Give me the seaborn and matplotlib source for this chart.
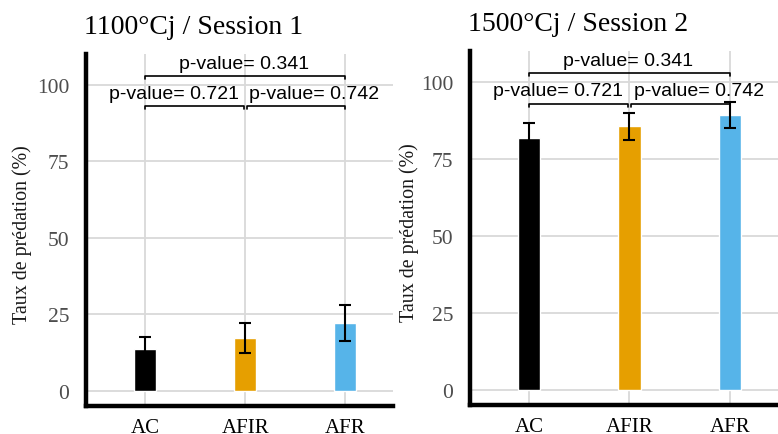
import matplotlib
matplotlib.use("Agg")
import matplotlib.pyplot as plt
import seaborn as sns
import pandas as pd

categories = ["AC", "AFIR", "AFR"]
colors = ["#000000", "#E69F00", "#56B4E9"]

titles = ["1100°Cj / Session 1", "1500°Cj / Session 2"]
means_s1 = [13.5, 17.3, 22.1]
err_s1 = [4.0, 4.9, 5.9]
means_s2 = [81.9, 85.6, 89.3]
err_s2 = [4.9, 4.4, 4.2]

# comparisons: (i, j, label)
comparisons = [(0, 2, "p-value= 0.341"), (0, 1, "p-value= 0.721"), (1, 2, "p-value= 0.742")]
yticks = [0, 25, 50, 75, 100]

sns.set_theme(style="white")
plt.rcParams["font.family"] = ["Liberation Serif", "DejaVu Serif"]

fig = plt.figure(figsize=(7.78, 4.35), dpi=100)
ax_pos = [[0.1105, 0.0644, 0.395, 0.809], [0.604, 0.0667, 0.396, 0.8135]]
ylabel_x = [-0.176, -0.166]

datasets = [(means_s1, err_s1), (means_s2, err_s2)]

for k, (means, errs) in enumerate(datasets):
    ax = fig.add_axes(ax_pos[k])
    df = pd.DataFrame({"cat": categories, "val": means})
    sns.barplot(data=df, x="cat", y="val", hue="cat", palette=colors,
                width=0.22, legend=False, ax=ax, zorder=2, saturation=1)
    ax.errorbar(range(len(categories)), means, yerr=errs, fmt="none",
                ecolor="black", elinewidth=1.5, capsize=4.5, capthick=1.5, zorder=3)
    ax.set_ylim(-5, 110)
    ax.set_xlim(-0.59, 2.48)
    ax.set_yticks(yticks)
    ax.set_yticklabels([str(t) for t in yticks], color="#4d4d4d", fontsize=15.5)
    ax.set_xticks(range(len(categories)))
    ax.set_xticklabels(categories, color="black", fontsize=15)
    ax.tick_params(axis="both", length=0)
    ax.tick_params(axis="y", pad=12)
    ax.tick_params(axis="x", pad=9)
    ax.grid(True, color="#d9d9d9", linewidth=1.3, zorder=0)
    ax.set_axisbelow(True)
    for s in ["top", "right"]:
        ax.spines[s].set_visible(False)
    for s in ["left", "bottom"]:
        ax.spines[s].set_visible(True)
        ax.spines[s].set_color("black")
        ax.spines[s].set_linewidth(3.2)
    ax.set_xlabel("")
    ax.set_ylabel("Taux de prédation (%)", fontsize=14.4, color="#1a1a1a")
    ax.yaxis.set_label_coords(ylabel_x[k], 0.49)
    ax.set_title(titles[k], loc="left", fontsize=20, color="black", pad=15, x=-0.005)

    # significance brackets
    levels = {(0, 2): 102.8, (0, 1): 92.9, (1, 2): 92.9}
    text_x = {(0, 2): 0.99, (0, 1): 0.29, (1, 2): 1.69}
    text_y = {(0, 2): 107.0, (0, 1): 97.2, (1, 2): 97.2}
    for i, j, lab in comparisons:
        y = levels[(i, j)]
        x0 = i + (0.015 if i == 1 else 0)
        x1 = j - (0.015 if j == 1 else 0)
        ax.plot([x0, x0, x1, x1], [y - 1.0, y, y, y - 1.0], color="black",
                linewidth=1.2, zorder=4, clip_on=False)
        ax.text(text_x[(i, j)], text_y[(i, j)], lab, ha="center", va="center",
                fontsize=14, family=["Liberation Sans", "DejaVu Sans"], color="black", zorder=5)

fig.savefig("out.png", dpi=100)
